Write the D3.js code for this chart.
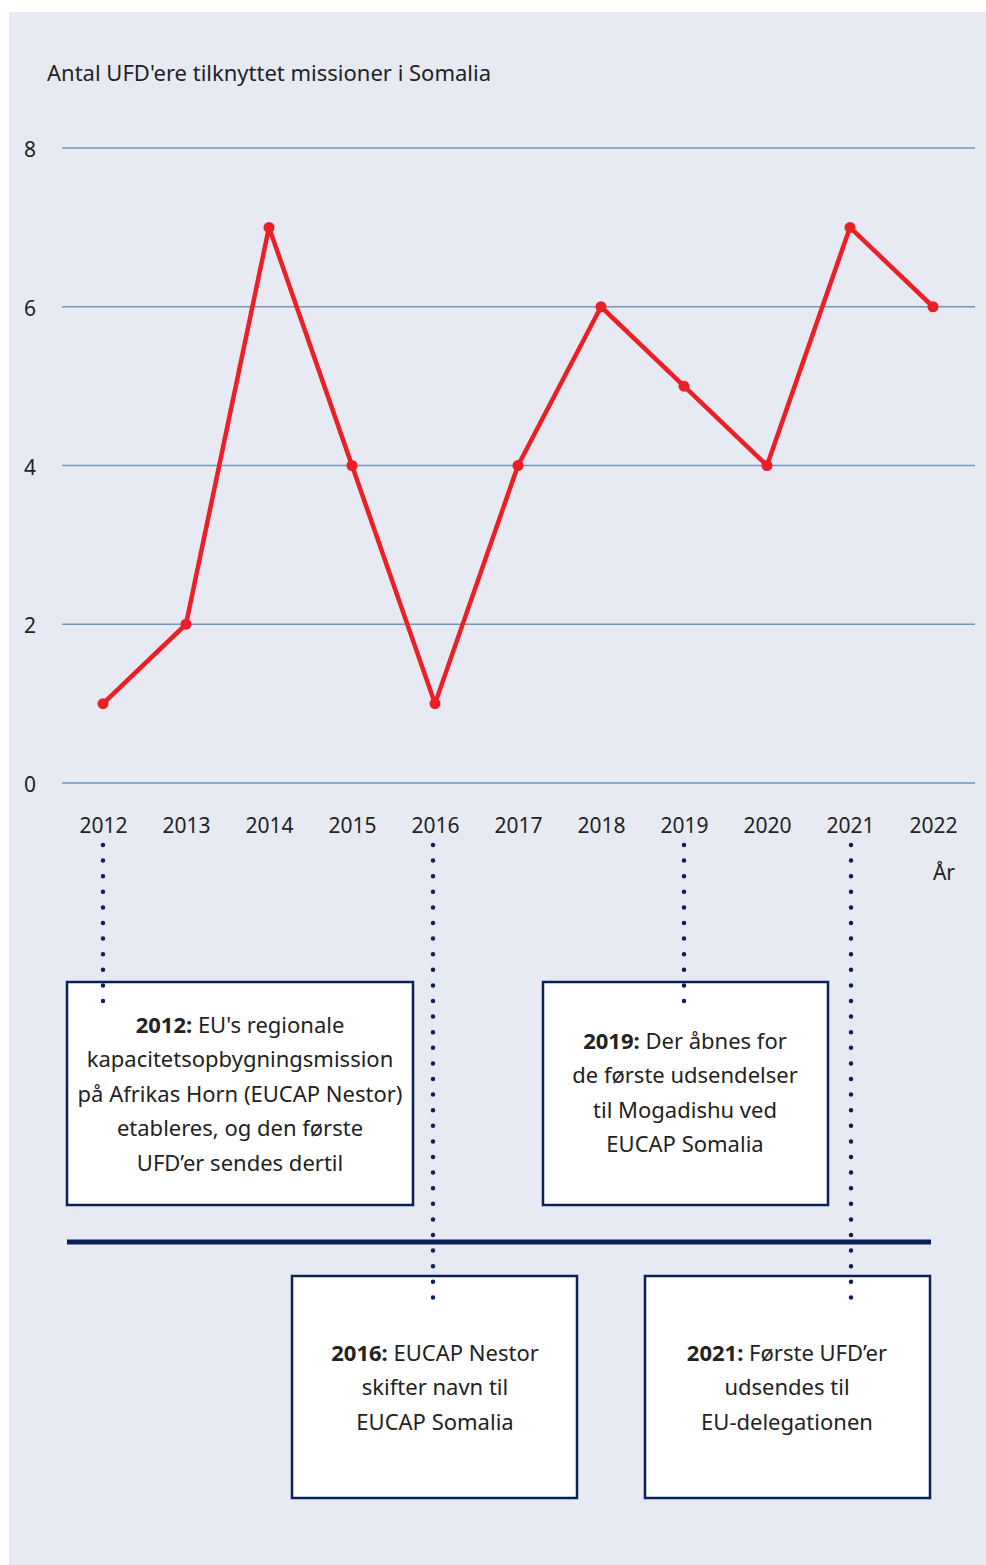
<!DOCTYPE html>
<html>
<head>
<meta charset="utf-8">
<script src="https://cdn.jsdelivr.net/npm/d3@7"></script>
<style>
  body { margin: 0; background: #fff; }
  svg { display: block; }
  text { font-family: "Noto Sans", sans-serif; fill: #222; }
</style>
</head>
<body>
<div id="chart"></div>
<script>
// data
var years = [2012, 2013, 2014, 2015, 2016, 2017, 2018, 2019, 2020, 2021, 2022];
var counts = [1, 2, 7, 4, 1, 4, 6, 5, 4, 7, 6];
var yTicks = [0, 2, 4, 6, 8];
var title = "Antal UFD'ere tilknyttet missioner i Somalia";
var xTitle = "År";

var eventYears = [2012, 2019, 2016, 2021];
var eventHeads = ["2012:", "2019:", "2016:", "2021:"];
var eventLines = [
  ["EU's regionale", "kapacitetsopbygningsmission", "på Afrikas Horn (EUCAP Nestor)", "etableres, og den første", "UFD’er sendes dertil"],
  ["Der åbnes for", "de første udsendelser", "til Mogadishu ved", "EUCAP Somalia"],
  ["EUCAP Nestor", "skifter navn til", "EUCAP Somalia"],
  ["Første UFD’er", "udsendes til", "EU-delegationen"]
];

var W = 986, H = 1565;
var navy = "#0b2156";

var svg = d3.select('#chart').append('svg')
  .attr('width', W).attr('height', H);

svg.append('rect')
  .attr('x', 9).attr('y', 12)
  .attr('width', W - 9).attr('height', H - 12)
  .attr('fill', '#e7eaf2');

var x = d3.scalePoint().domain(years).range([103, 933]);
var y = d3.scaleLinear().domain([0, 8]).range([783, 148]);

svg.append('text')
  .attr('x', 47).attr('y', 81)
  .style('font-size', '22px')
  .text(title);

// grid + y labels
var grid = svg.append('g');
grid.selectAll('line').data(yTicks).enter().append('line')
  .attr('x1', 62).attr('x2', 975)
  .attr('y1', function(d) { return y(d); })
  .attr('y2', function(d) { return y(d); })
  .attr('stroke', '#7096bb').attr('stroke-width', 1.3);

grid.selectAll('text').data(yTicks).enter().append('text')
  .attr('x', 30).attr('y', function(d) { return y(d) + 9; })
  .attr('text-anchor', 'middle')
  .style('font-size', '21px')
  .text(function(d) { return d; });

// x axis labels
var xAxis = d3.axisBottom(x).tickSize(0).tickPadding(0).tickFormat(d3.format('d'));
var gx = svg.append('g').attr('transform', 'translate(0,818)').call(xAxis);
gx.select('.domain').remove();
gx.selectAll('text')
  .attr('dy', '0.71em')
  .style('font-size', '21px')
  .style('font-family', '"Noto Sans", sans-serif')
  .attr('fill', '#222');

svg.append('text')
  .attr('x', 944).attr('y', 880)
  .attr('text-anchor', 'middle')
  .style('font-size', '21px')
  .text(xTitle);

// line
var pts = years.map(function(yr, i) { return [yr, counts[i]]; });
var line = d3.line()
  .x(function(d) { return x(d[0]); })
  .y(function(d) { return y(d[1]); });

svg.append('path').datum(pts)
  .attr('d', line)
  .attr('fill', 'none')
  .attr('stroke', '#ec1f27')
  .attr('stroke-width', 4.5)
  .attr('stroke-linejoin', 'round');

svg.selectAll('circle.pt').data(pts).enter().append('circle')
  .attr('class', 'pt')
  .attr('cx', function(d) { return x(d[0]); })
  .attr('cy', function(d) { return y(d[1]); })
  .attr('r', 5.5)
  .attr('fill', '#ec1f27');

// timeline boxes
var boxes = [
  { x: 67, y: 982, w: 346, h: 223, cx: 240, dotX: 103, dotEnd: 1005 },
  { x: 543, y: 982, w: 285, h: 223, cx: 685, dotX: 684, dotEnd: 1005 },
  { x: 292, y: 1276, w: 285, h: 222, cx: 435, dotX: 433, dotEnd: 1300 },
  { x: 645, y: 1276, w: 285, h: 222, cx: 787, dotX: 851, dotEnd: 1300 }
];

// horizontal bar
svg.append('rect')
  .attr('x', 67).attr('y', 1239.5)
  .attr('width', 864).attr('height', 5)
  .attr('fill', navy);

var ev = svg.selectAll('g.event').data(eventYears).enter().append('g').attr('class', 'event');

ev.append('rect')
  .attr('x', function(d, i) { return boxes[i].x; })
  .attr('y', function(d, i) { return boxes[i].y; })
  .attr('width', function(d, i) { return boxes[i].w; })
  .attr('height', function(d, i) { return boxes[i].h; })
  .attr('fill', '#fff')
  .attr('stroke', navy)
  .attr('stroke-width', 2.5);

ev.append('line')
  .attr('x1', function(d, i) { return boxes[i].dotX; })
  .attr('x2', function(d, i) { return boxes[i].dotX; })
  .attr('y1', 845)
  .attr('y2', function(d, i) { return boxes[i].dotEnd; })
  .attr('stroke', navy)
  .attr('stroke-width', 4.5)
  .attr('stroke-linecap', 'round')
  .attr('stroke-dasharray', '0 15.6');

ev.each(function(d, i) {
  var b = boxes[i];
  var lines = eventLines[i];
  var lh = 34.5;
  var mid = b.y + b.h / 2;
  var first = mid - (lines.length - 1) * lh / 2 + 8;
  if (i === 1) first -= 1;
  var t = d3.select(this).selectAll('text.l').data(lines).enter().append('text')
    .attr('class', 'l')
    .attr('x', b.cx)
    .attr('y', function(dd, j) { return first + j * lh; })
    .attr('text-anchor', 'middle')
    .style('font-size', '22px');
  t.each(function(dd, j) {
    var s = d3.select(this);
    if (j === 0) {
      s.append('tspan').style('font-weight', 'bold').text(eventHeads[i] + ' ');
    }
    s.append('tspan').text(dd);
  });
});
</script>
</body>
</html>
